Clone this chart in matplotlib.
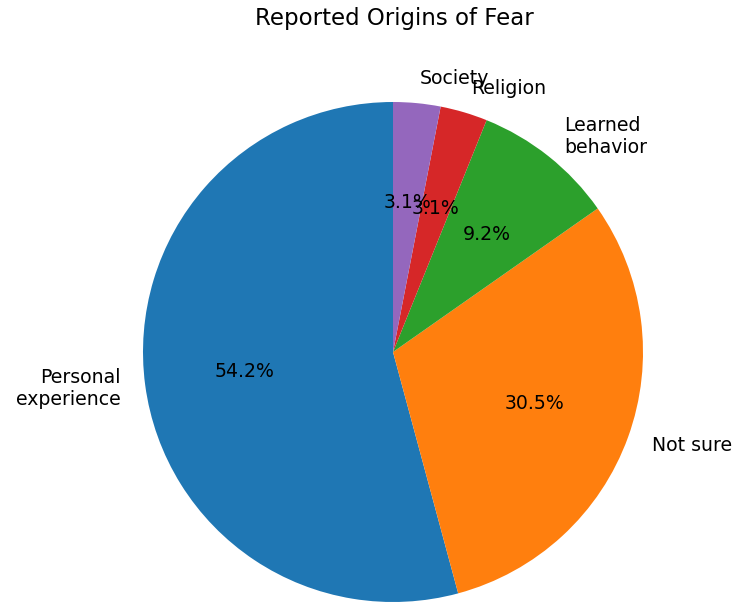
import matplotlib
matplotlib.use('Agg')
import matplotlib.pyplot as plt

labels = ['Personal\nexperience', 'Not sure', 'Learned\nbehavior', 'Religion', 'Society']
counts = [71, 40, 12, 4, 4]
colors = ['#1f77b4', '#ff7f0e', '#2ca02c', '#d62728', '#9467bd']

fig = plt.figure(figsize=(7.37, 6.03), dpi=100)
# axes placed so the pie centre sits where it does in the reference
ax = fig.add_axes([(393 - 312.5) / 737, (251 - 312.5) / 603, 625 / 737, 625 / 603])
ax.pie(counts, labels=labels, colors=colors, autopct='%1.1f%%', startangle=90,
       textprops={'fontsize': 13.6})
ax.set_aspect('equal')
fig.text(394 / 737, 1 - 18 / 603, 'Reported Origins of Fear', ha='center', va='center',
         fontsize=16.5)

plt.savefig('out.png', dpi=100)
